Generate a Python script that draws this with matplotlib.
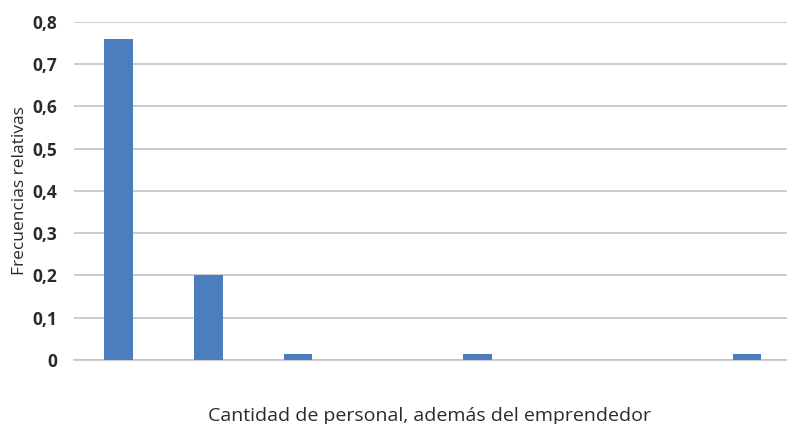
import matplotlib
matplotlib.use("Agg")
import matplotlib.pyplot as plt
from matplotlib.ticker import FixedLocator, FuncFormatter

# Staff count beyond the entrepreneur (0..7) and relative frequencies
categories = ["0", "1", "2", "3", "4", "5", "6", "7"]
freqs = [0.76, 0.20, 0.0133, 0.0, 0.0133, 0.0, 0.0, 0.0133]
y_ticks = [0.0, 0.1, 0.2, 0.3, 0.4, 0.5, 0.6, 0.7, 0.8]

plt.rcParams["font.family"] = ["Open Sans", "DejaVu Sans"]

W, H = 787, 424
fig = plt.figure(figsize=(W / 100, H / 100), dpi=100)
ax = fig.add_axes([0.0935, 0.151, 0.9128, 0.7978])

x = list(range(len(categories)))
ax.bar(x, freqs, width=0.32, color="#4A7EBF", zorder=3)

ax.set_xlim(-0.5, len(categories) - 0.5)
ax.set_ylim(0, 0.8)
ax.yaxis.set_major_locator(FixedLocator(y_ticks))
ax.yaxis.set_major_formatter(FuncFormatter(lambda v, p: "0" if v == 0 else f"{v:.1f}".replace(".", ",")))
ax.set_xticks([])

ax.grid(axis="y", color="#c4c4c8", linewidth=1.2, zorder=0)
for s in ["top", "right", "left"]:
    ax.spines[s].set_visible(False)
ax.spines["bottom"].set_color("#c4c4c8")
ax.spines["bottom"].set_linewidth(1.2)

ax.tick_params(axis="y", length=0, pad=12, labelsize=12.5, labelcolor="#2b2b2b")
for lbl in ax.get_yticklabels():
    lbl.set_fontweight("bold")

ax.set_ylabel("Frecuencias relativas", fontsize=12.5, color="#2b2b2b", labelpad=3)

# Axis title sits at the bottom edge of the figure
fig.text(430 / W, 1 - 421 / H, "Cantidad de personal, además del emprendedor",
         fontsize=14, color="#2b2b2b", ha="center", va="baseline")

fig.savefig("out.png", dpi=100)
